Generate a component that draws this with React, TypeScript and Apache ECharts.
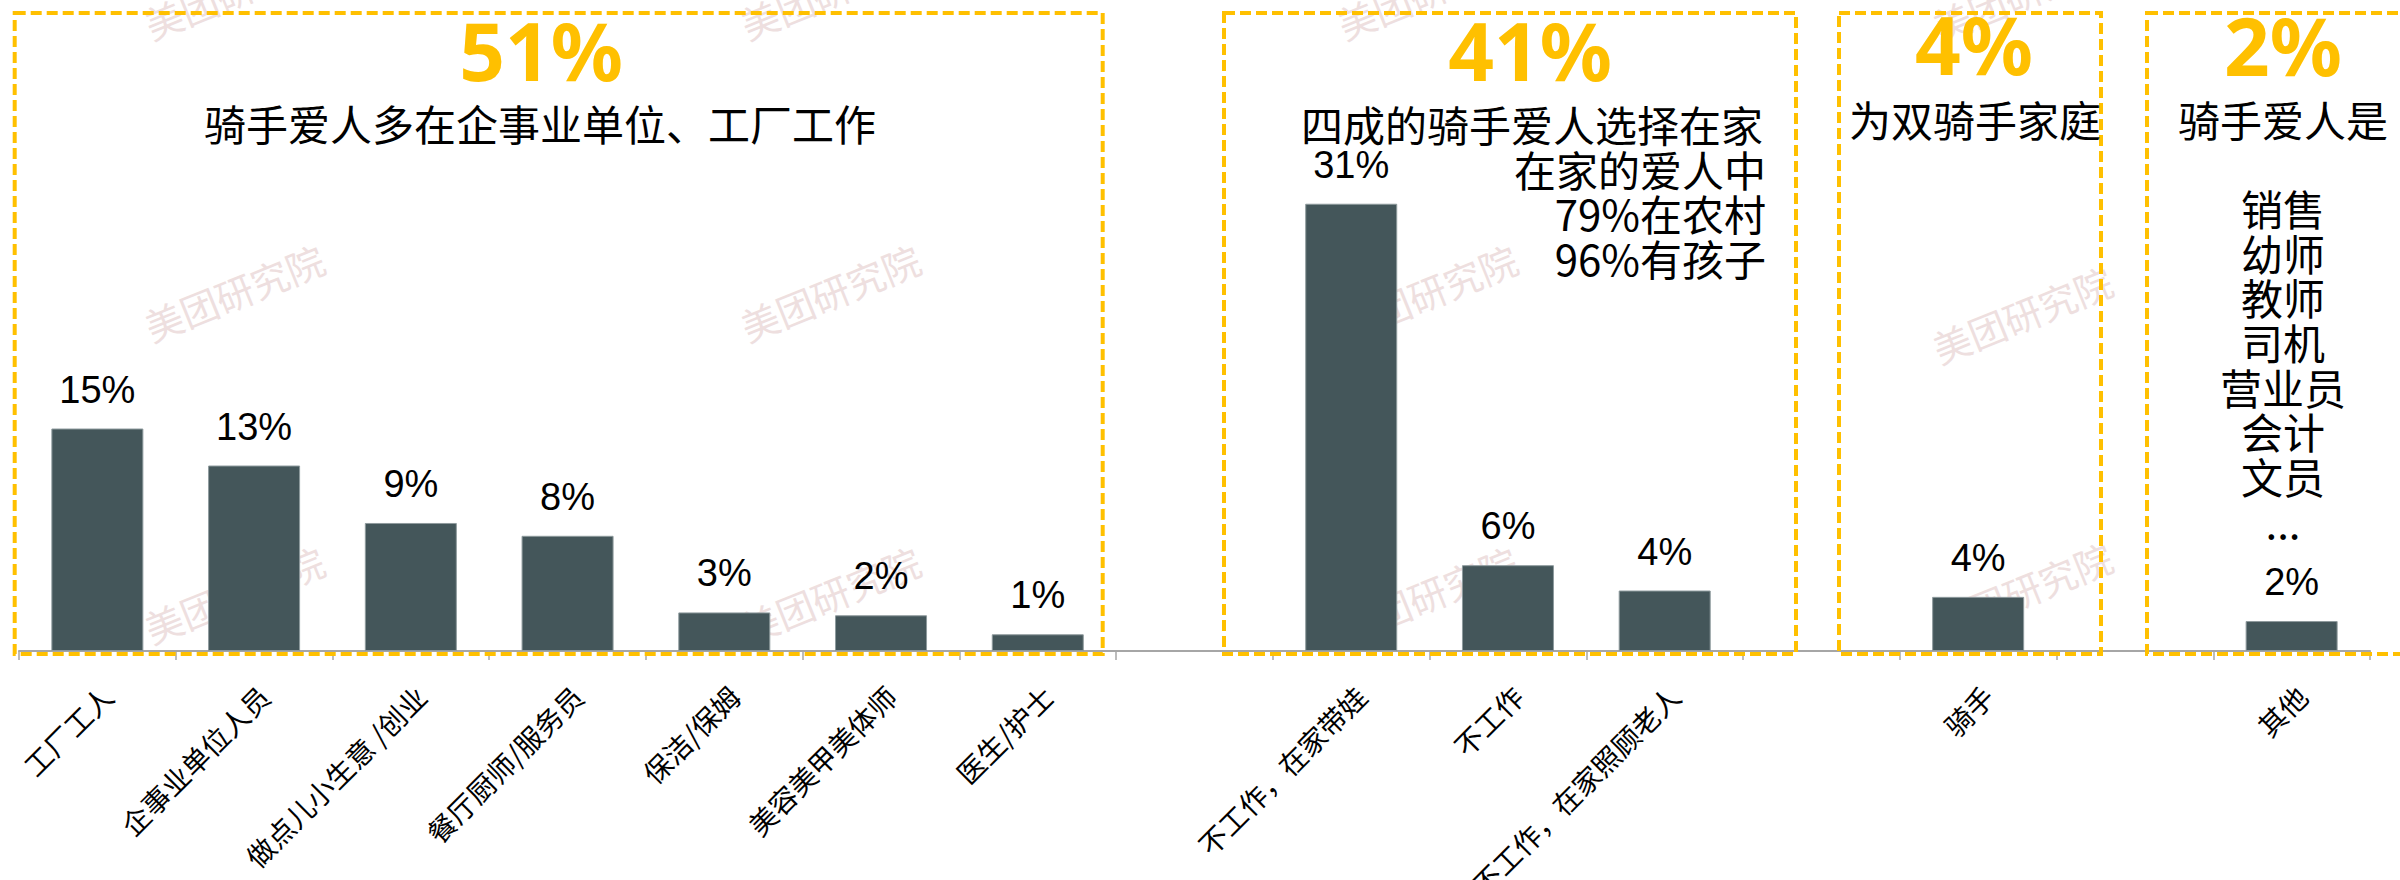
import React, { useEffect, useRef } from "react";
import * as echarts from "echarts";

const categories = [
  "工厂工人",
  "企事业单位人员",
  "做点儿小生意 /创业",
  "餐厅厨师/服务员",
  "保洁/保姆",
  "美容美甲美体师",
  "医生/护士",
  "",
  "不工作，在家带娃",
  "不工作",
  "不工作，在家照顾老人",
  "",
  "骑手",
  "",
  "其他",
];
const values: (number | null)[] = [15.45, 12.88, 8.89, 8.0, 2.68, 2.48, 1.16, null, 31.06, 5.96, 4.2, null, 3.76, null, 2.08];
const shownPct: (number | null)[] = [15, 13, 9, 8, 3, 2, 1, null, 31, 6, 4, null, 4, null, 2];

const groupShares = ["51%", "41%", "4%", "2%"];
const groupTitles = ["骑手爱人多在企事业单位、工厂工作", "四成的骑手爱人选择在家", "为双骑手家庭", "骑手爱人是"];
const homeNotes = ["在家的爱人中", "79%在农村", "96%有孩子"];
const otherJobs = ["销售", "幼师", "教师", "司机", "营业员", "会计", "文员", "..."];
const watermarkText = "美团研究院";

const GOLD = "#FFC000";
const CJK = "'Noto Sans CJK SC', 'Noto Sans', sans-serif";
const NUM = "'Liberation Sans', Arial, sans-serif";
const BIG = "'Noto Sans', 'Liberation Sans', sans-serif";

function App() {
  const ref = useRef<HTMLDivElement>(null);
  useEffect(() => {
    if (!ref.current) return;
    const chart = echarts.init(ref.current, undefined, { renderer: "svg" });

    const boxes = [
      { x: 14.7, w: 1088 },
      { x: 1224, w: 572 },
      { x: 1839, w: 262 },
      { x: 2147, w: 320 },
    ];
    const boxTop = 13;
    const boxBottom = 654;

    const wmPos = [
      [234, -10], [830, -10], [1427, -10], [2022, -8],
      [234, 292], [830, 292], [1427, 292], [2022, 314],
      [234, 594], [830, 594], [1427, 594], [2022, 590],
    ];

    const txt = (text: string, x: number, y: number, size: number, opts: any = {}) => ({
      type: "text",
      z: 20,
      silent: true,
      style: {
        text,
        x,
        y,
        fill: opts.fill || "#000",
        font: `${opts.weight || "normal"} ${size}px ${opts.family || CJK}`,
        align: opts.align || "center",
        textAlign: opts.align || "center",
        verticalAlign: opts.va || "middle",
        textVerticalAlign: opts.va || "middle",
        lineHeight: opts.lineHeight,
      },
    });

    const graphics: any[] = [];
    wmPos.forEach(([x, y]) => {
      graphics.push({
        type: "text",
        z: -5,
        silent: true,
        x,
        y,
        rotation: (22 * Math.PI) / 180,
        originX: 0,
        originY: 0,
        style: {
          text: watermarkText,
          x: 0,
          y: 0,
          fill: "#EEDFDF",
          font: `normal 38px ${CJK}`,
          align: "center",
          textAlign: "center",
          verticalAlign: "middle",
          textVerticalAlign: "middle",
        },
      });
    });
    boxes.forEach((b) => {
      graphics.push({
        type: "rect",
        z: 15,
        silent: true,
        shape: { x: b.x, y: boxTop, width: b.w, height: boxBottom - boxTop },
        style: { fill: "none", stroke: GOLD, lineWidth: 4, lineDash: [11, 5] },
      });
    });
    const shareX = [541, 1530, 1974, 2283];
    const shareY = [49, 49, 43, 44];
    const titleX = [540, 1532, 1975, 2283];
    const titleY = [122, 123, 118, 118];
    groupShares.forEach((s, i) => {
      graphics.push(txt(s, shareX[i], shareY[i], 80, { weight: "bold", family: BIG, fill: GOLD }));
      graphics.push(txt(groupTitles[i], titleX[i], titleY[i], 42));
    });
    graphics.push(txt(homeNotes.join("\n"), 1766, 146, 42, { align: "right", va: "top", lineHeight: 44.5 }));
    graphics.push(txt(otherJobs.join("\n"), 2283, 185, 42, { va: "top", lineHeight: 44.7 }));

    chart.setOption({
      animation: false,
      backgroundColor: "#fff",
      grid: { left: 19, right: 30, top: 75, bottom: 229, containLabel: false, outerBoundsMode: "none" },
      xAxis: {
        type: "category",
        data: categories,
        axisLine: { show: true, lineStyle: { color: "#A6A6A6", width: 2 } },
        axisTick: { show: true, length: 9, lineStyle: { color: "#A6A6A6", width: 1.5 } },
        axisLabel: {
          interval: 0,
          rotate: 45,
          margin: 30,
          align: "right",
          verticalAlign: "top",
          fontSize: 28,
          fontFamily: CJK,
          color: "#000",
        },
      },
      yAxis: {
        type: "value",
        min: 0,
        max: 40,
        show: false,
        splitLine: { show: false },
      },
      series: [
        {
          type: "bar",
          data: values.map((v) => (v == null ? "-" : v)),
          barWidth: 92,
          z: 2,
          itemStyle: { color: "#44565A", borderColor: "#8E9A9D", borderWidth: 1 },
          label: {
            show: true,
            position: "top",
            distance: 20,
            fontSize: 38,
            fontFamily: NUM,
            color: "#000",
            formatter: (p: any) => (shownPct[p.dataIndex] == null ? "" : `${shownPct[p.dataIndex]}%`),
          },
        },
      ],
      graphic: { elements: graphics },
    });
    return () => chart.dispose();
  }, []);
  return (
    <div
      ref={ref}
      style={{ position: "fixed", left: 0, top: 0, width: 2400, height: 880, background: "#fff" }}
    />
  );
}

export default App;
